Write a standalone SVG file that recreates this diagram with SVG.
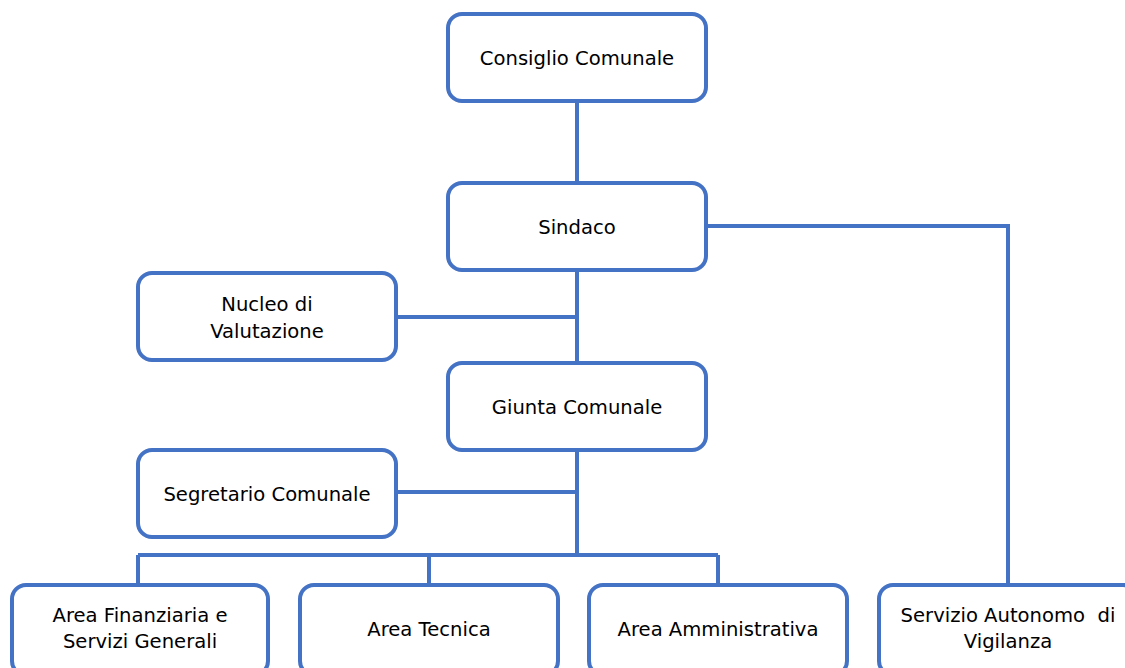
<svg xmlns="http://www.w3.org/2000/svg" width="1125" height="668" viewBox="0 0 1125 668">
<style>
.box{fill:#fff;stroke:#4472C4;stroke-width:4}
.ln{fill:none;stroke:#4472C4;stroke-width:4}
text{font-family:"DejaVu Sans","Liberation Sans",sans-serif;font-size:19.6px;fill:#000;text-anchor:middle;white-space:pre}
</style>
<rect width="1125" height="668" fill="#fff"/>
<g id="connectors">
<path class="ln" d="M577 101V183M577 270V363M577 450V555M396 317H577M396 492H577M138 555H718M138 555V585M429 555V585M718 555V585M706 226H1008V585"/>
</g>
<g id="consiglio"><rect class="box" x="448" y="14" width="258" height="87" rx="14"/><text x="577" y="65">Consiglio Comunale</text></g>
<g id="sindaco"><rect class="box" x="448" y="183" width="258" height="87" rx="14"/><text x="577" y="234">Sindaco</text></g>
<g id="nucleo"><rect class="box" x="138" y="273" width="258" height="87" rx="14"/><text x="267" y="311">Nucleo di</text><text x="267" y="338">Valutazione</text></g>
<g id="giunta"><rect class="box" x="448" y="363" width="258" height="87" rx="14"/><text x="577" y="414">Giunta Comunale</text></g>
<g id="segretario"><rect class="box" x="138" y="450" width="258" height="87" rx="14"/><text x="267" y="501">Segretario Comunale</text></g>
<g id="finanziaria"><rect class="box" x="12" y="585" width="256" height="90" rx="14"/><text x="140" y="622">Area Finanziaria e</text><text x="140" y="648">Servizi Generali</text></g>
<g id="tecnica"><rect class="box" x="300" y="585" width="258" height="90" rx="14"/><text x="429" y="636">Area Tecnica</text></g>
<g id="amministrativa"><rect class="box" x="589" y="585" width="258" height="90" rx="14"/><text x="718" y="636">Area Amministrativa</text></g>
<g id="vigilanza"><rect class="box" x="879" y="585" width="258" height="90" rx="14"/><text x="1008" y="622" xml:space="preserve">Servizio Autonomo  di</text><text x="1008" y="648">Vigilanza</text></g>
</svg>
